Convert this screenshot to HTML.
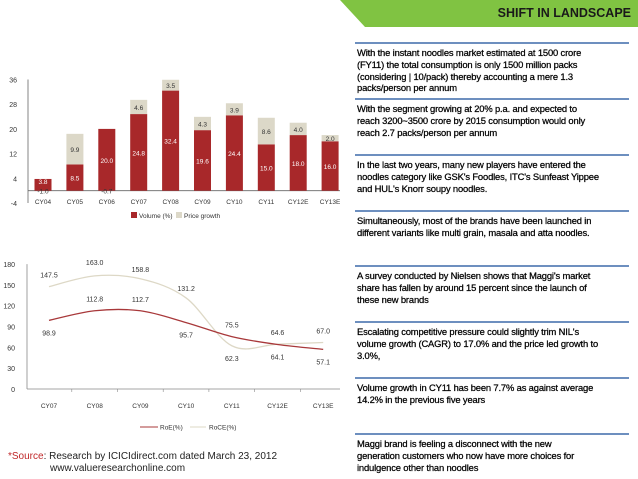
<!DOCTYPE html>
<html><head><meta charset="utf-8"><style>
body{margin:0;width:638px;height:479px;background:#fff;position:relative;overflow:hidden;font-family:"Liberation Sans",sans-serif}
.box{position:absolute;left:355px;width:272px;border-top:2px solid #6d8fbf;padding:3px 0 0 2px;font-size:9.4px;line-height:11.8px;color:#000;white-space:nowrap;letter-spacing:-0.15px;-webkit-text-stroke:0.25px #000}
svg text{font-family:"Liberation Sans",sans-serif}
</style></head><body>
<svg style="position:absolute;left:0;top:0" width="638" height="30">
<polygon points="340,0 638,0 638,27 365,27" fill="#80c342"/>
<text x="631" y="17" text-anchor="end" font-size="12.5" font-weight="bold" fill="#1a1a1a">SHIFT IN LANDSCAPE</text>
</svg>

<div class="box" style="top:42px">With the instant noodles market estimated at 1500 crore<br>(FY11) the total consumption is only 1500 million packs<br>(considering | 10/pack) thereby accounting a mere 1.3<br>packs/person per annum</div>
<div class="box" style="top:98px">With the segment growing at 20% p.a. and expected to<br>reach 3200~3500 crore by 2015 consumption would only<br>reach 2.7 packs/person per annum</div>
<div class="box" style="top:154px">In the last two years, many new players have entered the<br>noodles category like GSK's Foodles, ITC's Sunfeast Yippee<br>and HUL's Knorr soupy noodles.</div>
<div class="box" style="top:210px">Simultaneously, most of the brands have been launched in<br>different variants like multi grain, masala and atta noodles.</div>
<div class="box" style="top:265px">A survey conducted by Nielsen shows that Maggi's market<br>share has fallen by around 15 percent since the launch of<br>these new brands</div>
<div class="box" style="top:321px">Escalating competitive pressure could slightly trim NIL's<br>volume growth (CAGR) to 17.0% and the price led growth to<br>3.0%,</div>
<div class="box" style="top:377px">Volume growth in CY11 has been 7.7% as against average<br>14.2% in the previous five years</div>
<div class="box" style="top:433px">Maggi brand is feeling a disconnect with the new<br>generation customers who now have more choices for<br>indulgence other than noodles</div>

<div style="position:absolute;left:8px;top:451px;font-size:10px;line-height:11.5px;color:#222"><span style="color:#c0282a">*Source</span>: Research by ICICIdirect.com dated March 23, 2012<br><span style="padding-left:42px">www.valueresearchonline.com</span></div>

<svg id="bar" style="position:absolute;left:0;top:0" width="340" height="240"></svg>
<svg id="line" style="position:absolute;left:0;top:240px" width="340" height="200"></svg>

<script>
const barCats=["CY04","CY05","CY06","CY07","CY08","CY09","CY10","CY11","CY12E","CY13E"];
const volume=[3.8,8.5,20.0,24.8,32.4,19.6,24.4,15.0,18.0,16.0];
const price=[-1.0,9.9,-0.7,4.6,3.5,4.3,3.9,8.6,4.0,2.0];
const barTicks=[36,28,20,12,4,-4];

const lineCats=["CY07","CY08","CY09","CY10","CY11","CY12E","CY13E"];
const roe=[98.9,112.8,112.7,95.7,75.5,64.1,57.1];
const roce=[147.5,163.0,158.8,131.2,62.3,64.6,67.0];
const lineTicks=[180,150,120,90,60,30,0];

const NS="http://www.w3.org/2000/svg";
function mk(p,t,a,txt){const e=document.createElementNS(NS,t);for(const k in a)e.setAttribute(k,a[k]);if(txt!==undefined)e.textContent=txt;p.appendChild(e);return e;}

// bar chart
const b=document.getElementById('bar');
const by=v=>190.7-v*3.09;
const bx=i=>43+i*31.9;
mk(b,'line',{x1:28,y1:by(36),x2:28,y2:by(-4),stroke:'#666','stroke-width':0.8});
mk(b,'line',{x1:28,y1:by(0),x2:340,y2:by(0),stroke:'#666','stroke-width':0.8});
barTicks.forEach(t=>{
  const tl=mk(b,'text',{x:17,y:by(t)+3,'font-size':7,'text-anchor':'end',fill:'#333'},t);
  
  
});
barCats.forEach((c,i)=>{
  const x=bx(i),w=17;
  const v=volume[i],p=price[i];
  const r=mk(b,'rect',{x:x-w/2,y:by(v),width:w,height:by(0)-by(v),fill:'#a8282a'});
  
  
  if(p>0){
    const q=mk(b,'rect',{x:x-w/2,y:by(v+p),width:w,height:by(v)-by(v+p),fill:'#dcd8c8'});
    
    
    mk(b,'text',{x:x,y:(by(v)+by(v+p))/2+3,'font-size':6.5,'text-anchor':'middle',fill:'#333'},p.toFixed(1));
  } else {
    mk(b,'text',{x:x,y:by(0)+3,'font-size':6.5,'text-anchor':'middle',fill:'#333'},p.toFixed(1));
  }
  mk(b,'text',{x:x,y:(by(0)+by(v))/2+(v<6?-1:3),'font-size':6.5,'text-anchor':'middle',fill:'#fff'},v.toFixed(1));
  const cl=mk(b,'text',{x:x,y:204,'font-size':6.5,'text-anchor':'middle',fill:'#333'},c);
  
  
});
mk(b,'rect',{x:131,y:212,width:6,height:6,fill:'#a8282a'});
mk(b,'text',{x:139,y:218,'font-size':6.5,fill:'#333'},'Volume (%)');
mk(b,'rect',{x:176,y:212,width:6,height:6,fill:'#dcd8c8'});
mk(b,'text',{x:184,y:218,'font-size':6.5,fill:'#333'},'Price growth');

// line chart
const l=document.getElementById('line');
const ly=v=>149-v*0.694;
const lx=i=>49+i*45.7;
mk(l,'line',{x1:27,y1:ly(180),x2:27,y2:ly(0),stroke:'#888','stroke-width':0.8});
mk(l,'line',{x1:27,y1:ly(0),x2:340,y2:ly(0),stroke:'#888','stroke-width':0.8});
lineTicks.forEach(t=>{
  const tl=mk(l,'text',{x:15,y:ly(t)+3,'font-size':7,'text-anchor':'end',fill:'#333'},t);
  
  
});
lineCats.forEach((c,i)=>{
  const cl=mk(l,'text',{x:lx(i),y:ly(0)+19,'font-size':6.5,'text-anchor':'middle',fill:'#333'},c);
  
  
  if(i<6)mk(l,'line',{x1:lx(i)+22.8,y1:ly(0),x2:lx(i)+22.8,y2:ly(0)+3,stroke:'#888','stroke-width':0.6});
});
function smooth(arr){
  const pts=arr.map((v,i)=>[lx(i),ly(v)]);
  let d='M'+pts[0][0]+','+pts[0][1];
  for(let i=0;i<pts.length-1;i++){
    const p0=pts[i-1]||pts[i],p1=pts[i],p2=pts[i+1],p3=pts[i+2]||p2;
    const c1=[p1[0]+(p2[0]-p0[0])/6,p1[1]+(p2[1]-p0[1])/6];
    const c2=[p2[0]-(p3[0]-p1[0])/6,p2[1]-(p3[1]-p1[1])/6];
    d+=` C${c1[0]},${c1[1]} ${c2[0]},${c2[1]} ${p2[0]},${p2[1]}`;
  }
  return d;
}
const pr=mk(l,'path',{d:smooth(roce),fill:'none',stroke:'#ddd8c6','stroke-width':1.3});


const pe=mk(l,'path',{d:smooth(roe),fill:'none',stroke:'#a8383a','stroke-width':1.3});


const roeOff=[12,-12,-12,12,-12,12,12];
const roceOff=[-12,-14,-10,-10,12,-12,-12];
roe.forEach((v,i)=>mk(l,'text',{x:lx(i),y:ly(v)+roeOff[i]+3,'font-size':7,'text-anchor':'middle',fill:'#333'},v.toFixed(1)));
roce.forEach((v,i)=>mk(l,'text',{x:lx(i),y:ly(v)+roceOff[i]+3,'font-size':7,'text-anchor':'middle',fill:'#333'},v.toFixed(1)));
mk(l,'line',{x1:140,y1:187,x2:158,y2:187,stroke:'#a8383a','stroke-width':1});
mk(l,'text',{x:160,y:189.5,'font-size':6.5,fill:'#333'},'RoE(%)');
mk(l,'line',{x1:190,y1:187,x2:206,y2:187,stroke:'#ddd8c6','stroke-width':1});
mk(l,'text',{x:209,y:189.5,'font-size':6.5,fill:'#333'},'RoCE(%)');
</script>
</body></html>
